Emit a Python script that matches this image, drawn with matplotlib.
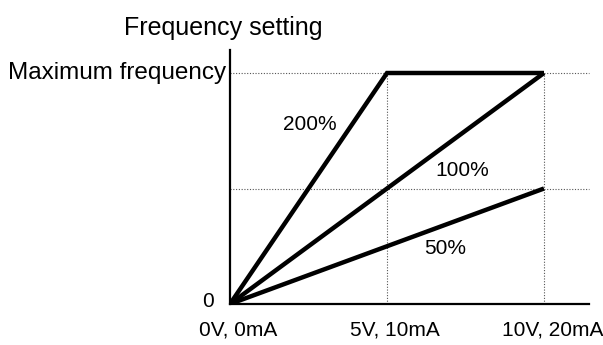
import matplotlib
matplotlib.use("Agg")
import matplotlib.pyplot as plt

plt.rcParams['font.family'] = ['Liberation Sans', 'DejaVu Sans']

# input signal (V) and output frequency (fraction of maximum)
volts = [0, 5, 10]
tick_labels = ["0V, 0mA", "5V, 10mA", "10V, 20mA"]
gain_200 = [0, 1.0, 1.0]
gain_100 = [0, 0.5, 1.0]
gain_50 = [0, 0.25, 0.5]
gain_names = ["200%", "100%", "50%"]

W, H = 603, 345
fig = plt.figure(figsize=(W / 100, H / 100), dpi=100)
x0, y0, x1, y1 = 230, 304, 589, 50          # axis pixel extents
ax = fig.add_axes([x0 / W, (H - y0) / H, (x1 - x0) / W, (y0 - y1) / H])
ax.set_xlim(0, 10 * (x1 - x0) / (544 - x0))
ax.set_ylim(0, (y0 - y1) / (y0 - 73))

for s in ["top", "right"]:
    ax.spines[s].set_visible(False)
for s in ["left", "bottom"]:
    ax.spines[s].set_linewidth(1.6)
ax.set_xticks([])
ax.set_yticks([])

# dotted guides
xmax = ax.get_xlim()[1]
for yv in [1.0, 0.5]:
    ax.plot([0, xmax], [yv, yv], ls=(0, (1, 1.5)), color="#555555", lw=0.8, clip_on=False)
for xv in volts[1:]:
    ax.plot([xv, xv], [0, 1.0], ls=(0, (1, 1.5)), color="#555555", lw=0.8)

lw = 3.2
ax.plot(volts, gain_200, color="black", lw=lw, solid_capstyle="butt", solid_joinstyle="miter")
ax.plot([0, 10], [0, gain_100[-1]], color="black", lw=lw, solid_capstyle="butt")
ax.plot([0, 10], [0, gain_50[-1]], color="black", lw=lw, solid_capstyle="butt")

fs = 15
ax.text(2.55, 0.779, gain_names[0], fontsize=fs, ha="center", va="center")
ax.text(7.39, 0.576, gain_names[1], fontsize=fs, ha="center", va="center")
ax.text(6.85, 0.242, gain_names[2], fontsize=fs, ha="center", va="center")

for xv, lab in zip(volts, tick_labels):
    ax.annotate(lab, (xv, 0), xytext=(6, -19), textcoords="offset points",
                ha="center", va="center", fontsize=fs, annotation_clip=False)

ax.annotate("0", (0, 0), xytext=(-16, 2), textcoords="offset points",
            ha="center", va="center", fontsize=fs, annotation_clip=False)
ax.annotate("Maximum frequency", (0, 1.0), xytext=(-3, 0), textcoords="offset points",
            ha="right", va="center", fontsize=17.5, annotation_clip=False)
fig.text(223 / W, 1 - 28 / H, "Frequency setting", fontsize=18, ha="center", va="center")

fig.savefig("out.png", dpi=100)
